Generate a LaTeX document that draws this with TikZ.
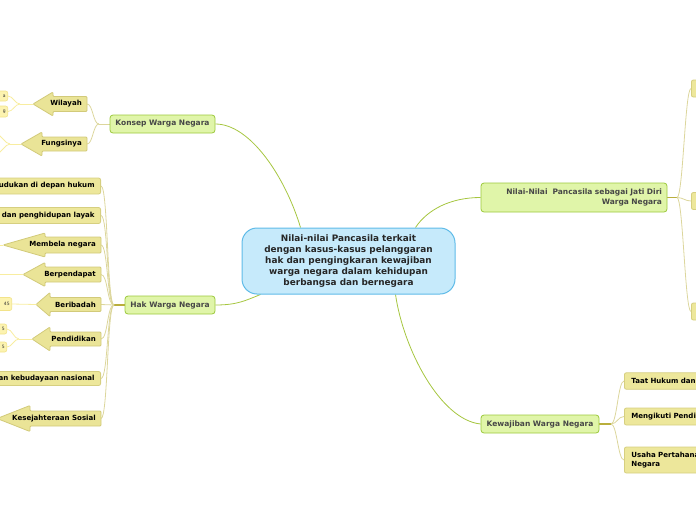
\documentclass[tikz,border=0pt]{standalone}
\usepackage{fontspec}
\setmainfont{DejaVu Sans}
\definecolor{cFill}{HTML}{C6EAFB}
\definecolor{cBorder}{HTML}{5FBBE8}
\definecolor{mFill}{HTML}{E0F5A9}
\definecolor{mBorder}{HTML}{9CC93C}
\definecolor{mLine}{HTML}{A6C640}
\definecolor{yFill}{HTML}{EDE79B}
\definecolor{yBorder}{HTML}{D6CF80}
\definecolor{aFill}{HTML}{EAE497}
\definecolor{aBorder}{HTML}{D2CA7A}
\definecolor{lFill}{HTML}{FCF3B0}
\definecolor{lBorder}{HTML}{F2E38A}
\definecolor{cLine}{HTML}{DCD69C}
\definecolor{sLine}{HTML}{B9AE3C}
\definecolor{lLine}{HTML}{F8EDA0}
\pgfdeclarelayer{bg}
\pgfsetlayers{bg,main}
\newcommand\harrow[8]{%
  \path[arrowbox] (#2,#5) -- (#3,{#5-#7}) -- (#3,{#5-#6}) -- (#4,{#5-#6}) -- (#4,{#5+#6}) -- (#3,{#5+#6}) -- (#3,{#5+#7}) -- cycle;
  \coordinate (#1tip) at (#2,#5);
  \coordinate (#1r) at (#4,#5);
  \node[ctext, anchor=east] (#1) at ({#4-5},#5) {#8};
}
\begin{document}
\begin{tikzpicture}[x=1pt,y=-1pt,
 centerbox/.style={draw=cBorder, fill=cFill, line width=1pt, rounded corners=15pt, align=center, font=\bfseries\fontsize{8.9}{10.8}\selectfont, text=black!85, inner sep=0pt},
 mainbox/.style={draw=mBorder, fill=mFill, line width=0.8pt, rounded corners=3pt, font=\bfseries\fontsize{7.5}{9.5}\selectfont, text=black!72, inner sep=0pt},
 childbox/.style={draw=yBorder, fill=yFill, line width=0.8pt, rounded corners=2pt, font=\bfseries\fontsize{7.05}{8}\selectfont, text=black, inner ysep=0pt, inner xsep=6pt},
 arrowbox/.style={draw=aBorder, fill=aFill, line width=0.8pt, rounded corners=1pt},
 leafbox/.style={draw=lBorder, fill=lFill, line width=0.6pt, rounded corners=2pt, font=\fontsize{4.5}{5}\selectfont, text=black!80, inner ysep=0pt, inner xsep=2pt},
 mainline/.style={draw=mLine, line width=0.8pt},
 childline/.style={draw=cLine, line width=0.8pt},
 stubline/.style={draw=sLine, line width=1.3pt},
 leafline/.style={draw=lLine, line width=0.8pt},
 ctext/.style={font=\bfseries\fontsize{7.05}{8}\selectfont, text=black, inner sep=0pt}
]
\useasboundingbox (0,0) rectangle (696,520);
\clip (0,0) rectangle (696,520);

% center
\node[centerbox, minimum width=213, minimum height=66] (c) at (348.5,261)
 {Nilai-nilai Pancasila terkait\\dengan kasus-kasus pelanggaran\\hak dan pengingkaran kewajiban\\warga negara dalam kehidupan\\berbangsa dan bernegara};

% main branches
\node[mainbox, minimum width=105, minimum height=18] (k) at (162.5,124) {Konsep Warga Negara};
\node[mainbox, minimum width=90, minimum height=18] (h) at (170,305) {Hak Warga Negara};
\node[mainbox, minimum width=186, minimum height=29, text width=176, align=right] (n) at (574,197.5)
 {Nilai-Nilai\ \ Pancasila sebagai Jati Diri\\Warga Negara};
\node[mainbox, minimum width=118, minimum height=18] (w) at (540,424) {Kewajiban Warga Negara};

% Konsep children
\harrow{wil}{33}{53}{87}{104}{7.5}{12}{Wilayah}
\harrow{fun}{21}{42}{87}{144}{7}{12}{Fungsinya}
\node[leafbox, anchor=east, minimum height=10, text width=12, align=right] (wl1) at (8,96) {a};
\node[leafbox, anchor=east, minimum height=11, text width=12, align=right] (wl2) at (8,111.5) {g};
\coordinate (fl1) at (-4,134);
\coordinate (fl2) at (-4,154);

% Hak children
\node[childbox, anchor=east, minimum height=16, text width=112, align=right] (h1) at (101,186) {udukan di depan hukum};
\node[childbox, anchor=east, minimum height=16, text width=112, align=right] (h2) at (101,215.5) {dan penghidupan layak};
\harrow{bel}{3}{45}{101}{245}{8}{12}{Membela negara}
\harrow{ber}{23}{45}{101}{274.5}{7.5}{12}{Berpendapat}
\harrow{iba}{36}{50}{101}{304.5}{7}{12}{Beribadah}
\harrow{pen}{32}{50}{101}{339}{7}{12}{Pendidikan}
\node[childbox, anchor=east, minimum height=14, text width=112, align=right] (h7) at (101,378.5) {an kebudayaan nasional};
\harrow{kes}{-3}{30}{101}{418.5}{7.5}{13}{Kesejahteraan Sosial}
\node[leafbox, anchor=east, minimum height=13, text width=14, align=right] (il) at (12,304) {45};
\node[leafbox, anchor=east, minimum height=10, text width=10, align=right] (pl1) at (7,329) {5};
\node[leafbox, anchor=east, minimum height=10, text width=10, align=right] (pl2) at (7,347) {5};
\coordinate (bel0) at (-5,245);
\coordinate (ber0) at (-5,274.5);

% Nilai children
\node[childbox, anchor=west, minimum width=30, minimum height=17] (n1) at (691,88.5) {};
\node[childbox, anchor=west, minimum width=30, minimum height=17] (n2) at (691,201) {};
\node[childbox, anchor=west, minimum width=30, minimum height=17] (n3) at (691,311.5) {};

% Kewajiban children
\node[childbox, anchor=west, minimum height=16.5, text width=130, align=left, inner xsep=7pt] (w1) at (624,381) {Taat Hukum dan Pemerintahan};
\node[childbox, anchor=west, minimum height=17, text width=130, align=left, inner xsep=7pt] (w2) at (624,416.5) {Mengikuti Pendidikan};
\node[childbox, anchor=west, minimum height=26, text width=130, align=left, inner xsep=7pt, font=\bfseries\fontsize{7.05}{8.5}\selectfont] (w3) at (624,460) {Usaha Pertahanan\\Negara};

\begin{pgfonlayer}{bg}
% main connectors
\draw[mainline] ([xshift=-48pt]c.north) .. controls +(-15,-50) and +(35,0) .. (k.east);
\draw[mainline] ([xshift=-88pt]c.south) .. controls +(-15,6) and +(22,0) .. (h.east);
\draw[mainline] ([xshift=67pt]c.north) .. controls +(12,-18) and +(-30,0) .. (n.west);
\draw[mainline] ([xshift=47pt]c.south) .. controls +(8,55) and +(-40,-4) .. (w.west);

% Konsep
\coordinate (ks) at (99,124);
\draw[childline] (k.west) -- (ks);
\draw[childline] (ks) .. controls +(-6,0) and +(6,0) .. (wilr);
\draw[childline] (ks) .. controls +(-6,0) and +(6,0) .. (funr);
\coordinate (wils) at (20,104);
\draw[leafline] (wiltip) -- (wils);
\draw[leafline] (wils) .. controls +(-5,0) and +(5,0) .. (wl1.east);
\draw[leafline] (wils) .. controls +(-5,0) and +(5,0) .. (wl2.east);
\coordinate (funs) at (10,144);
\draw[leafline] (funtip) -- (funs);
\draw[leafline] (funs) .. controls +(-5,0) and +(5,0) .. (fl1);
\draw[leafline] (funs) .. controls +(-5,0) and +(5,0) .. (fl2);

% Hak
\coordinate (hs) at (114,305);
\draw[stubline] (h.west) -- (hs);
\foreach \t in {h1.east,h2.east,belr,berr,ibar,penr,h7.east,kesr}
  \draw[childline] (hs) .. controls +(-7,0) and +(7,0) .. (\t);
\draw[leafline] (beltip) -- (bel0);
\draw[leafline] (bertip) -- (ber0);
\draw[leafline] (ibatip) -- (il.east);
\coordinate (pens) at (19,339);
\draw[leafline] (pentip) -- (pens);
\draw[leafline] (pens) .. controls +(-5,0) and +(5,0) .. (pl1.east);
\draw[leafline] (pens) .. controls +(-5,0) and +(5,0) .. (pl2.east);

% Nilai
\coordinate (ns) at (677,197.5);
\draw[stubline] (n.east) -- (ns);
\foreach \t in {n1,n2,n3}
  \draw[childline] (ns) .. controls +(6,0) and +(-6,0) .. (\t.west);

% Kewajiban
\coordinate (wsx) at (611,424);
\draw[stubline] (w.east) -- (wsx);
\foreach \t in {w1,w2,w3}
  \draw[childline] (wsx) .. controls +(6,0) and +(-6,0) .. (\t.west);
\end{pgfonlayer}
\end{tikzpicture}
\end{document}
